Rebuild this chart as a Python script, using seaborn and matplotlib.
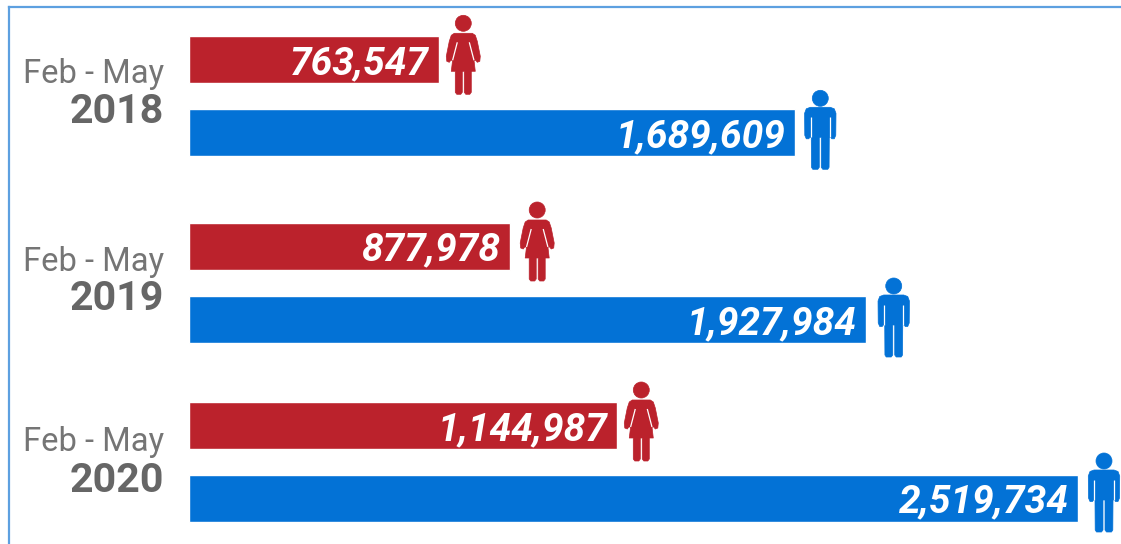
#!/usr/bin/env python3
# -*- coding: utf-8 -*-
"""Feb - May counts by year for women and men, with pictograms at the bar ends."""

import pandas as pd
import seaborn as sns
import matplotlib.pyplot as plt
from matplotlib.patches import PathPatch
from matplotlib.path import Path
from matplotlib.transforms import Affine2D

# %% Data

lst_years = ['2018', '2019', '2020']
str_period = 'Feb - May'

# Printed labels
lst_lbl_women = ['763,547', '877,978', '1,144,987']
lst_lbl_men = ['1,689,609', '1,927,984', '2,519,734']

# Bar lengths as drawn in the picture; the source does not draw them strictly
# in proportion to the printed labels (only the longest bar is taken as exact)
lst_len_women = [708000, 909000, 1212500]
lst_len_men = [1717000, 1919500, 2519734]

# %% Layout

var_w, var_h = 1121, 544
var_unit = 2519734 / 889  # value per pixel
var_x0 = 189  # pixel of the zero line
var_bar_h = 47
lst_row_women = [59.8, 246, 425.5]
lst_row_men = [132.8, 319.5, 498]

# baselines of the left labels, icon distances from the bar ends and
# icon tops relative to the bar centres
lst_base_period = [83, 271, 451.5]
lst_base_year = [123, 310, 491.5]
lst_off_women = [24.5, 27.5, 24.5]
lst_off_men = [25.5, 27.5, 26]
lst_top_women = [-44.5, -44, -43.5]
lst_top_men = [-42.5, -41.5, -45]

str_red = '#BB222C'
str_blue = '#0372D6'
str_frame = '#5DA0E0'

# %% Icons, local pixels: x from the icon axis, y down from the top of the head

lst_woman = [(0, 18), (9, 18), (12, 20), (14, 26), (17, 41), (16.5, 46),
             (14, 47), (12.5, 45), (10.7, 45), (12, 56), (8, 56), (8, 77),
             (6.5, 79), (2.5, 79), (1, 77), (1, 56)]
lst_man = [(0, 17), (10, 17), (14, 18.5), (15.7, 23), (15.5, 45), (14, 48.5),
           (11.5, 48.5), (10.5, 47), (9, 47), (8.8, 77), (7.5, 79), (2.5, 79),
           (1, 77), (1, 47)]


def func_mirror(lst_half):
    """Close a right-hand outline with its mirror image."""
    lst_left = [(-x, y) for x, y in reversed(lst_half)]
    return Path(lst_half + lst_left + [lst_half[0]], closed=True)


def func_slit(x0, y0, x1, y1):
    """White lines between arm and body, on both sides."""
    return Path([(x0, y0), (x1, y1), (-x0, y0), (-x1, y1)],
                [Path.MOVETO, Path.LINETO, Path.MOVETO, Path.LINETO])


pth_head = Path.circle((0, 8), 8)
pth_woman = func_mirror(lst_woman)
pth_man = func_mirror(lst_man)
pth_slit_woman = func_slit(6, 27, 10.7, 45)
pth_slit_man = func_slit(9.6, 27, 9.6, 47)


def func_icon(ax, var_end, var_row, pth_body, pth_slit, str_color, var_off,
              var_top):
    """Draw a figure next to the end of a bar."""
    trf = (Affine2D().scale(var_unit, 1)
           .translate(var_end + var_off * var_unit, var_row + var_top)
           + ax.transData)
    for pth in (pth_head, pth_body):
        ax.add_patch(PathPatch(pth, facecolor=str_color, edgecolor=str_color,
                               linewidth=0.5, joinstyle='round', transform=trf,
                               clip_on=False))
    ax.add_patch(PathPatch(pth_slit, fill=False, edgecolor='white',
                           linewidth=0.9, transform=trf))


# %% Plot

df = pd.DataFrame({
    'row': lst_row_women + lst_row_men,
    'length': lst_len_women + lst_len_men,
    'sex': ['women'] * 3 + ['men'] * 3})

sns.set_style('white')
plt.rcParams['font.family'] = ['Roboto', 'DejaVu Sans']

fig = plt.figure(figsize=(var_w / 100, var_h / 100), dpi=100)
ax = fig.add_axes([9 / var_w, 0, (var_w - 9) / var_w, (var_h - 7) / var_h])

# seaborn scales the width by the smallest gap between rows
var_gap = min(b - a for a, b in zip(sorted(df['row']), sorted(df['row'])[1:]))
sns.barplot(data=df, x='length', y='row', hue='sex', orient='y',
            native_scale=True, dodge=False, legend=False,
            palette={'women': str_red, 'men': str_blue},
            width=var_bar_h / var_gap, saturation=1, ax=ax)

# y data runs in picture pixels, the x scale keeps its zero at var_x0
ax.set_xlim(-(var_x0 - 9) * var_unit, (var_w - var_x0) * var_unit)
ax.set_ylim(var_h, 7)
ax.set_xlabel('')
ax.set_ylabel('')
ax.set_xticks([])
ax.set_yticks([])

# only the top and left of the frame are in the picture
for str_side in ('right', 'bottom'):
    ax.spines[str_side].set_visible(False)
for str_side in ('top', 'left'):
    ax.spines[str_side].set_color(str_frame)
    ax.spines[str_side].set_linewidth(1.6)

var_txt_x = -25 * var_unit
var_pad = 9.5 * var_unit

for ind in range(len(lst_years)):
    var_r_w = lst_row_women[ind]
    var_r_m = lst_row_men[ind]

    ax.text(lst_len_women[ind] - var_pad, var_r_w, lst_lbl_women[ind],
            ha='right', va='center_baseline', color='white', fontsize=28,
            fontweight='bold', fontstyle='italic')
    ax.text(lst_len_men[ind] - var_pad, var_r_m, lst_lbl_men[ind],
            ha='right', va='center_baseline', color='white', fontsize=28,
            fontweight='bold', fontstyle='italic')

    ax.text(var_txt_x, lst_base_period[ind], str_period, ha='right',
            va='baseline', color='#757575', fontsize=23.6)
    ax.text(var_txt_x, lst_base_year[ind], lst_years[ind], ha='right',
            va='baseline', color='#666666', fontsize=29.6, fontweight='bold')

    func_icon(ax, lst_len_women[ind], var_r_w, pth_woman, pth_slit_woman,
              str_red, lst_off_women[ind], lst_top_women[ind])
    func_icon(ax, lst_len_men[ind], var_r_m, pth_man, pth_slit_man,
              str_blue, lst_off_men[ind], lst_top_men[ind])

fig.savefig('out.png', dpi=100)
